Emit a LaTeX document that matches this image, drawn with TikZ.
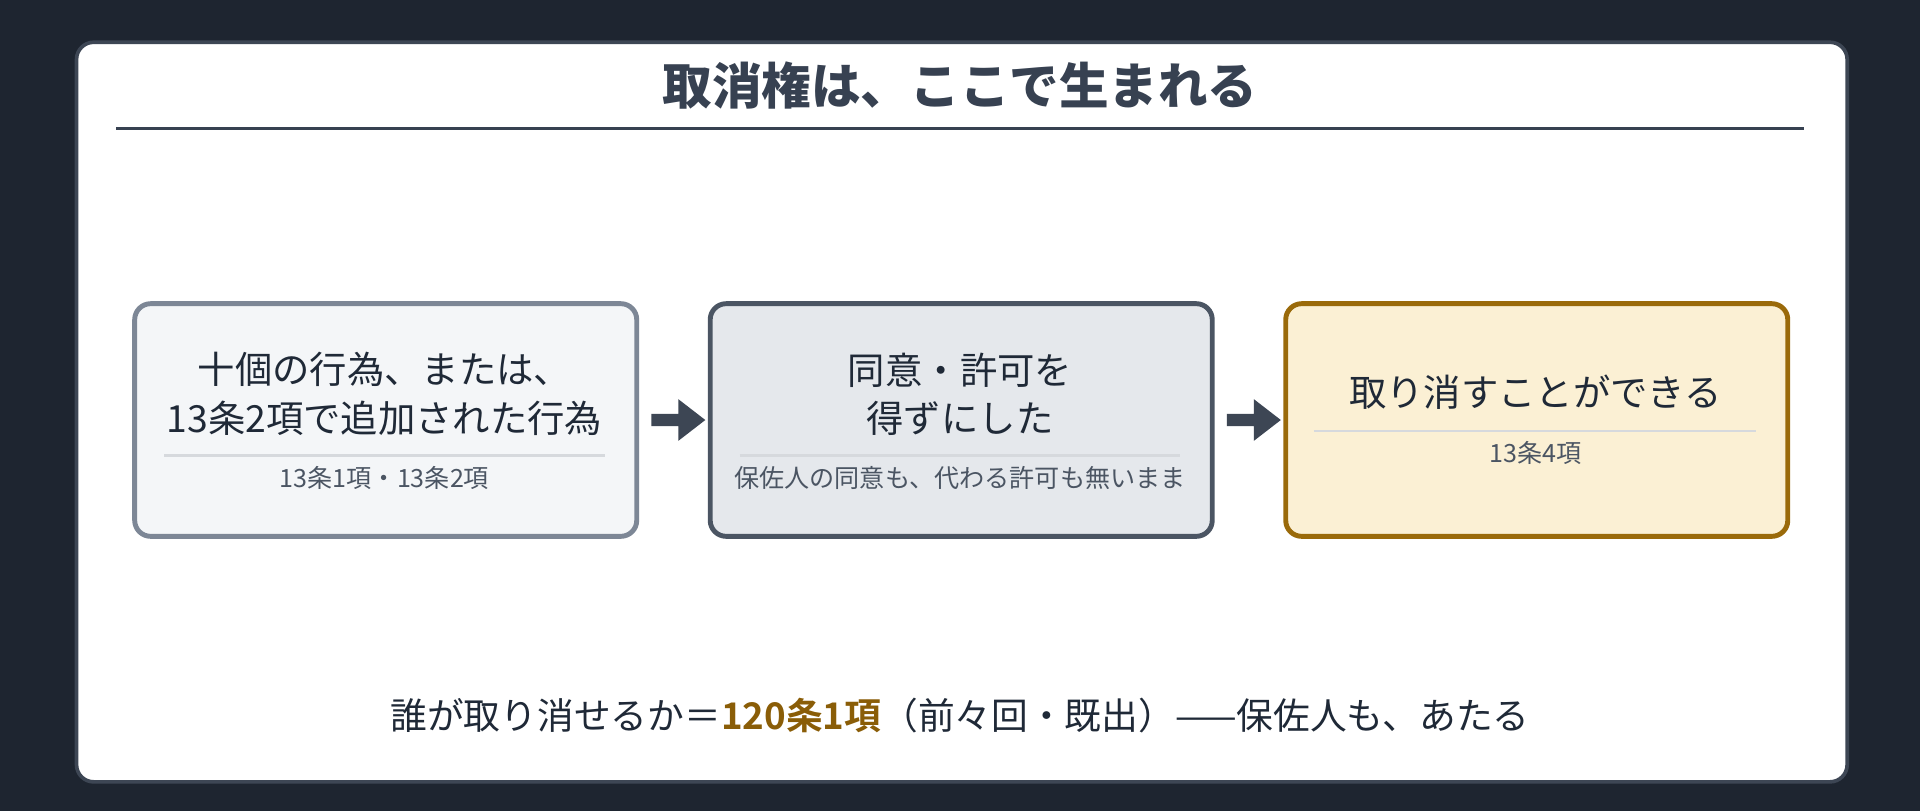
\documentclass[tikz,border=0pt]{standalone}
\usepackage{fontspec}
\setmainfont{Noto Sans CJK JP}
\newfontfamily\jpb{Noto Sans CJK JP}[BoldFont={Noto Sans CJK JP Bold}]
\definecolor{bg}{HTML}{1E2530}
\definecolor{cardb}{HTML}{3D4654}
\definecolor{ink}{HTML}{374151}
\definecolor{txt}{HTML}{1F2937}
\definecolor{subt}{HTML}{4B5563}
\definecolor{sep}{HTML}{D6D9DD}
\definecolor{goldt}{HTML}{8A5D07}
\begin{document}
\begin{tikzpicture}[x=1pt,y=-1pt,
 box/.style={draw, line width=4pt, rounded corners=13pt, minimum width=410pt, minimum height=190pt, anchor=north west},
 main/.style={font=\fontsize{30.5}{40}\selectfont, text=txt, align=center},
 sub/.style={font=\fontsize{20.5}{24}\selectfont, text=subt},
 arr/.style={fill=cardb}]
\fill[bg] (0,0) rectangle (1568,662);
\useasboundingbox (0,0) rectangle (1568,662);
\node[draw=cardb, line width=3pt, fill=white, rounded corners=14pt, minimum width=1446pt, minimum height=604pt, anchor=north west] (card) at (61,33) {};
\node[font=\bfseries\fontsize{40.5}{46}\selectfont, text=ink] (title) at (784,70) {取消権は、ここで生まれる};
\coordinate (r1) at (95,105); \coordinate (r2) at (1473,105);
\draw[ink, line width=2pt] (r1) -- (r2);
% boxes
\node[box, draw={rgb,255:red,125;green,135;blue,150}, fill={rgb,255:red,244;green,246;blue,248}] (b1) at (108,246) {};
\node[box, draw=subt, fill={rgb,255:red,229;green,232;blue,236}] (b2) at (578,246) {};
\node[box, draw={rgb,255:red,154;green,106;blue,10}, fill={rgb,255:red,251;green,240;blue,212}] (b3) at (1048,246) {};
\node[main] (t1) at (314,322) {十個の行為、または、\\13条2項で追加された行為};
\node[main] (t2) at (784,322) {同意・許可を\\得ずにした};
\node[main] (t3) at (1254,320) {取り消すことができる};
\draw[sep, line width=2pt] (134,372) -- (494,372);
\draw[sep, line width=2pt] (604,372) -- (964,372);
\draw[sep, line width=2pt] (1073,352) -- (1434,352);
\node[sub] (s1) at (314,390) {13条1項・13条2項};
\node[sub] (s2) at (784,390) {保佐人の同意も、代わる許可も無いまま};
\node[sub] (s3) at (1254,370) {13条4項};
% arrows
\fill[arr] (b1.east) ++(10,-5) -- ++(22,0) -- ++(0,-12) -- ++(22,17) -- ++(-22,17) -- ++(0,-12) -- ++(-22,0) -- cycle;
\fill[arr] (b2.east) ++(10,-5) -- ++(22,0) -- ++(0,-12) -- ++(22,17) -- ++(-22,17) -- ++(0,-12) -- ++(-22,0) -- cycle;
\node[font=\fontsize{30}{34}\selectfont, text=txt] (bottom) at (784,584) {誰が取り消せるか＝{\jpb\bfseries\color{goldt}120条1項}（前々回・既出）——保佐人も、あたる};
\end{tikzpicture}
\end{document}
